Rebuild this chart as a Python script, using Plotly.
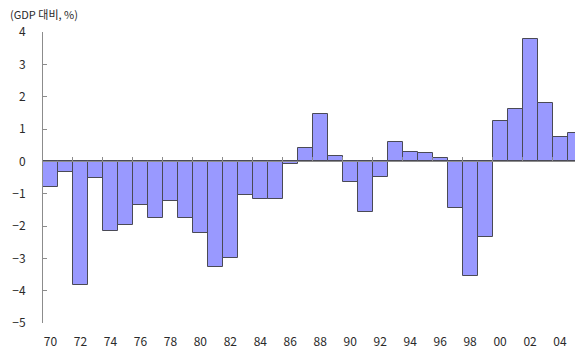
import plotly.graph_objects as go

# Fiscal balance, % of GDP, 1970-2005
years = list(range(1970, 2006))
balance = [
    -0.78, -0.33, -3.84, -0.52, -2.14, -1.96, -1.34, -1.75, -1.24, -1.75,
    -2.22, -3.27, -2.99, -1.03, -1.16, -1.16, -0.07, 0.41, 1.47, 0.18,
    -0.64, -1.57, -0.47, 0.59, 0.28, 0.27, 0.10, -1.45, -3.56, -2.35,
    1.26, 1.62, 3.79, 1.80, 0.74, 0.88,
]
label_years = list(range(1970, 2005, 2))
label_text = [f"{y % 100:02d}" for y in label_years]
y_ticks = [4, 3, 2, 1, 0, -1, -2, -3, -4, -5]

FONT = "Noto Sans CJK KR"
TEXT = "#2a2a2a"
AXIS = "#8c8c8c"

fig = go.Figure()
fig.add_trace(go.Bar(
    x=years, y=balance,
    marker=dict(color="#9999ff", line=dict(color="#4a4a55", width=1)),
    xaxis="x", yaxis="y", hoverinfo="skip",
))
# carrier trace for the axis drawn along the zero line
fig.add_trace(go.Scatter(
    x=years, y=[0] * len(years), mode="none",
    xaxis="x2", yaxis="y", hoverinfo="skip", showlegend=False,
))

fig.update_layout(
    width=575, height=356,
    margin=dict(l=43, r=0, t=32, b=33),
    paper_bgcolor="white", plot_bgcolor="white",
    showlegend=False, bargap=0,
    font=dict(family=FONT, size=12, color=TEXT),
    xaxis=dict(
        range=[1969.5, 2005.0],
        tickvals=label_years, ticktext=label_text,
        showline=False, showgrid=False, zeroline=False, ticks="",
        ticklabelstandoff=10,
        tickfont=dict(family=FONT, size=12, color=TEXT),
    ),
    xaxis2=dict(
        overlaying="x", matches="x", anchor="free", position=5 / 9,
        showline=True, linecolor=AXIS, linewidth=1,
        showgrid=False, zeroline=False, showticklabels=False,
        ticks="inside", ticklen=4, tickcolor=AXIS,
        tickvals=[y - 0.5 for y in label_years[1:]],
    ),
    yaxis=dict(
        range=[-5, 4], tickvals=y_ticks,
        showline=True, linecolor=AXIS, linewidth=1,
        showgrid=False, zeroline=False,
        ticks="inside", ticklen=4, tickcolor=AXIS,
        ticklabelstandoff=14,
        tickfont=dict(family=FONT, size=12, color=TEXT),
    ),
    annotations=[dict(
        text="(GDP 대비, %)", xref="paper", yref="paper",
        x=-0.066, y=1.062, xanchor="left", yanchor="middle",
        showarrow=False, font=dict(family=FONT, size=11, color=TEXT),
    )],
)

fig.write_html("out.html")
